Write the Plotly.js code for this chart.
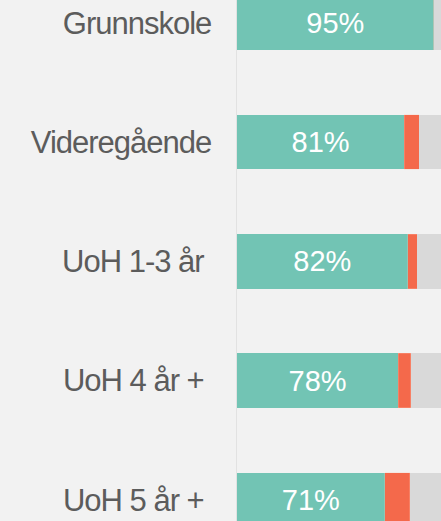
<!DOCTYPE html>
<html>
<head>
<meta charset="utf-8">
<script src="https://cdn.plot.ly/plotly-3.0.1.min.js"></script>
<style>
html,body{margin:0;padding:0;background:#f2f2f2;}
#chart{width:441px;height:521px;}
#chart .ytick text{letter-spacing:-1px;}
</style>
</head>
<body>
<div id="chart"></div>
<script>
const categories = ["Grunnskole", "Videregående", "UoH 1-3 år", "UoH 4 år +", "UoH 5 år +"];
const tickLabels = ["Grunnskole", "Videregående", "UoH 1-3 år\u00a0", "UoH 4 år +\u00a0", "UoH 5 år +\u00a0"];
const tealValues = [95, 80.7, 82.4, 77.9, 71.3];
const redValues = [0, 7.4, 4.6, 6.1, 12.2];
const grayValues = tealValues.map((v, i) => 100 - v - redValues[i]);
const tealText = tealValues.map(v => Math.round(v) + "%");

const font = "Liberation Sans, Arial, sans-serif";
const traces = [
  {type: "bar", orientation: "h", y: categories, x: tealValues, text: tealText,
   textposition: "inside", insidetextanchor: "middle", textangle: 0,
   textfont: {family: font, size: 29, color: "#ffffff"},
   marker: {color: "#72c4b4"}, hoverinfo: "none"},
  {type: "bar", orientation: "h", y: categories, x: redValues,
   marker: {color: "#f4694b", line: {color: "rgba(255,200,180,0.5)", width: 0.5}}, textposition: "none", hoverinfo: "none"},
  {type: "bar", orientation: "h", y: categories, x: grayValues,
   marker: {color: "#d9d9d9"}, textposition: "none", hoverinfo: "none"}
];
const layout = {
  width: 441, height: 521,
  margin: {l: 237, r: 0, t: 0, b: 0, pad: 0},
  paper_bgcolor: "#f2f2f2", plot_bgcolor: "#f2f2f2",
  barmode: "stack", bargap: 0.543, showlegend: false,
  xaxis: {range: [0, 98.55], showgrid: false, zeroline: false, showticklabels: false, showline: false, fixedrange: true},
  yaxis: {type: "category", categoryorder: "array", categoryarray: categories,
          range: [4.178, -0.193], tickvals: categories, ticktext: tickLabels,
          tickfont: {family: font, size: 31, color: "#5c5c5c"},
          ticks: "", ticklabelstandoff: 18, showgrid: false, zeroline: false,
          showline: true, linecolor: "#e2e2e2", linewidth: 1.5, fixedrange: true},
  font: {family: font}
};
Plotly.newPlot("chart", traces, layout, {displayModeBar: false, staticPlot: true});
</script>
</body>
</html>
